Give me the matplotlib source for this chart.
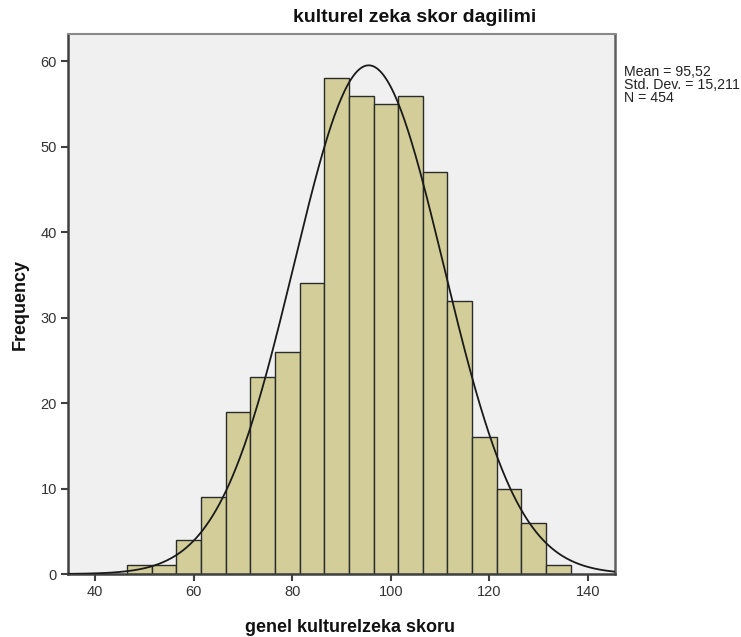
import numpy as np
import matplotlib
matplotlib.use("Agg")
import matplotlib.pyplot as plt

plt.rcParams['font.family'] = ['Liberation Sans', 'DejaVu Sans']

# Data
bin_start = 46.5
bin_width = 5.0
counts = [1, 1, 4, 9, 19, 23, 26, 34, 58, 56, 55, 56, 47, 32, 16, 10, 6, 1]
mean = 95.52
sd = 15.211
n = 454
title = "kulturel zeka skor dagilimi"
xlabel = "genel kulturelzeka skoru"
ylabel = "Frequency"
xticks = [40, 60, 80, 100, 120, 140]
yticks = [0, 10, 20, 30, 40, 50, 60]
stats_lines = ["Mean = 95,52", "Std. Dev. = 15,211", "N = 454"]

edges = bin_start + bin_width * np.arange(len(counts) + 1)

fig = plt.figure(figsize=(7.41, 6.37), dpi=100)
ax = fig.add_axes([68/741, 1 - 574/637, (615 - 68)/741, (574 - 34)/637])
ax.set_facecolor('#F0F0F0')

ax.bar(edges[:-1], counts, width=bin_width, align='edge',
       color='#D3CE99', edgecolor='#2b2b2b', linewidth=1.0, zorder=2)

xs = np.linspace(34.5, 145.5, 500)
ys = n * bin_width / (sd * np.sqrt(2 * np.pi)) * np.exp(-0.5 * ((xs - mean) / sd) ** 2)
ax.plot(xs, ys, color='#1a1a1a', linewidth=1.3, zorder=3)

ax.set_xlim(34.5, 145.5)
ax.set_ylim(0, 63.2)
ax.set_xticks(xticks)
ax.set_yticks(yticks)
ax.tick_params(axis='both', direction='out', length=5, width=1.5, color='#404040',
               labelsize=10.5, labelcolor='#333333', pad=3)

for side in ['left', 'bottom']:
    ax.spines[side].set_color('#404040')
    ax.spines[side].set_linewidth(1.8)
ax.spines['top'].set_color('#8a8a8a')
ax.spines['top'].set_linewidth(1.5)
ax.spines['right'].set_color('#606060')
ax.spines['right'].set_linewidth(1.8)

fig.text(415/741, 1 - 18/637, title, ha='center', va='center',
         fontsize=14, fontweight='bold', color='#111111')
fig.text(350/741, 1 - 627/637, xlabel, ha='center', va='center',
         fontsize=13, fontweight='bold', color='#111111')
fig.text(20/741, 1 - 305/637, ylabel, ha='center', va='center', rotation=90,
         fontsize=13, fontweight='bold', color='#111111')

for i, line in enumerate(stats_lines):
    fig.text(623.5/741, 1 - (75.7 + 13 * i)/637, line, ha='left', va='baseline',
             fontsize=10.2, color='#222222')

fig.savefig('out.png', dpi=100)
